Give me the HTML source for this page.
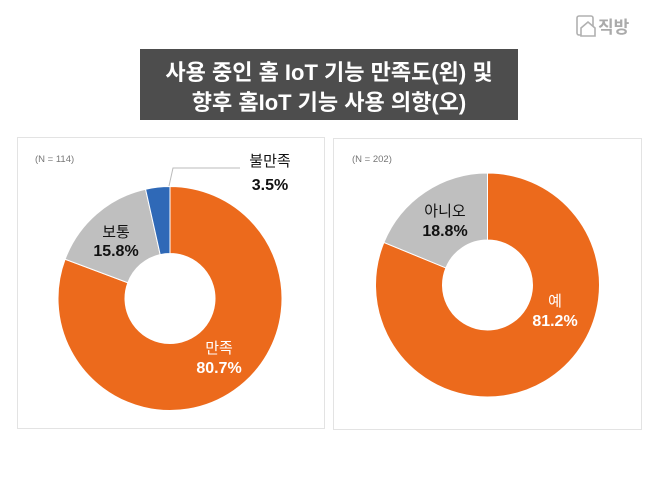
<!DOCTYPE html>
<html><head><meta charset="utf-8"><style>
body{margin:0;background:#fff;width:658px;height:479px;overflow:hidden;font-family:"Liberation Sans","Noto Sans CJK KR",sans-serif}
</style></head><body>
<svg width="658" height="479" xmlns="http://www.w3.org/2000/svg" font-family="Liberation Sans, Noto Sans CJK KR, sans-serif">
<rect x="0" y="0" width="658" height="479" fill="#fff"/>
<g transform="translate(577,16)" stroke="#b0b0b0" fill="none" stroke-width="1.6">
<rect x="0" y="0" width="16" height="19" rx="2"/>
<path d="M4 12 L11 6 L18 12 L18 20 L4 20 Z" fill="#fff"/>
</g>
<text x="598" y="33" font-size="17" font-weight="bold" fill="#aaa">직방</text>
<rect x="140" y="49" width="378" height="71" fill="#4d4d4d"/>
<text x="329" y="80" font-size="22" font-weight="bold" fill="#fff" text-anchor="middle">사용 중인 홈 IoT 기능 만족도(왼) 및</text>
<text x="329" y="110" font-size="22" font-weight="bold" fill="#fff" text-anchor="middle">향후 홈IoT 기능 사용 의향(오)</text>
<rect x="17.5" y="137.5" width="307" height="291" fill="#fff" stroke="#e3e3e3"/>
<rect x="333.5" y="138.5" width="308" height="291" fill="#fff" stroke="#e3e3e3"/>
<text x="35" y="162" font-size="9.5" fill="#777">(N = 114)</text>
<text x="352" y="162" font-size="9.5" fill="#777">(N = 202)</text>
<g id="d1"></g><g id="d2"></g>
<polyline points="169,186 173,168 240,168" fill="none" stroke="#bbb" stroke-width="1"/>
<text x="270" y="166" font-size="15" fill="#111" text-anchor="middle">불만족</text>
<text x="270" y="190" font-size="16" font-weight="bold" fill="#111" text-anchor="middle">3.5%</text>
<text x="116" y="237" font-size="15" fill="#111" text-anchor="middle">보통</text>
<text x="116" y="256" font-size="16" font-weight="bold" fill="#111" text-anchor="middle">15.8%</text>
<text x="219" y="353" font-size="15" fill="#fff" text-anchor="middle">만족</text>
<text x="219" y="373" font-size="16" font-weight="bold" fill="#fff" text-anchor="middle">80.7%</text>
<text x="445" y="216" font-size="15" fill="#111" text-anchor="middle">아니오</text>
<text x="445" y="236" font-size="16" font-weight="bold" fill="#111" text-anchor="middle">18.8%</text>
<text x="555" y="306" font-size="15" fill="#fff" text-anchor="middle">예</text>
<text x="555" y="326" font-size="16" font-weight="bold" fill="#fff" text-anchor="middle">81.2%</text>
</svg>
<script>
function donut(id,cx,cy,R,r,vals,cols){
 var g=document.getElementById(id),a=0,s='';
 for(var i=0;i<vals.length;i++){
  var a0=a,a1=a+vals[i]/100*2*Math.PI;a=a1;
  var p=function(rad,t){return (cx+rad*Math.sin(t)).toFixed(2)+' '+(cy-rad*Math.cos(t)).toFixed(2)};
  var L=(a1-a0)>Math.PI?1:0;
  s+='<path d="M'+p(R,a0)+' A'+R+' '+R+' 0 '+L+' 1 '+p(R,a1)+' L'+p(r,a1)+' A'+r+' '+r+' 0 '+L+' 0 '+p(r,a0)+' Z" fill="'+cols[i]+'" stroke="#fff" stroke-width="1"/>';
 }
 g.innerHTML=s;
}
donut('d1',170,298.5,112,45,[80.7,15.8,3.5],['#ec6a1c','#bfbfbf','#2f69b7']);
donut('d2',487.5,285,112,45,[81.2,18.8],['#ec6a1c','#bfbfbf']);
</script>
</body></html>
